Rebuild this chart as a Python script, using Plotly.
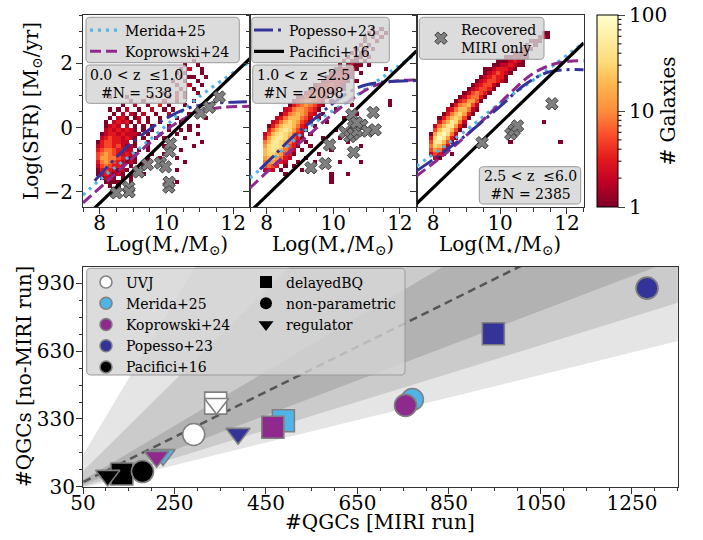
import numpy as np
import plotly.graph_objects as go

W, H = 703, 540
FONT = "DejaVu Serif"

# ================= DATA =================
# --- top panels: 2D histograms (counts per 0.125 x 0.125 dex cell) ---
MASS_MIN, MASS_BIN, N_MASS = 7.5, 0.125, 40
SFR_MAX, SFR_BIN, N_SFR = 3.5, 0.125, 48
# count code: character -> galaxies in cell
COUNT_CODE = {"1": 1, "2": 2, "3": 3, "4": 5, "5": 8, "6": 13, "7": 20, "8": 32, "9": 50, "a": 80}

# row index (0 = top, SFR 3.5) -> "startcol:codes" segments
hist_z1 = {
    11: "26:1", 12: "24:1 27:1", 13: "23:1 25:2 28:1", 14: "22:1 24:1 28:1",
    15: "23:2 25:11 29:1", 16: "21:1 24:1 27:1", 17: "22:1 25:2 28:1", 18: "20:1 23:1 26:1",
    19: "19:1 22:2 24:1 27:1", 20: "6:1 10:1 16:1 20:1 22:3 24:1", 21: "11:1 14:1 19:2 22:1 26:1",
    22: "9:1 12:2 15:1 18:3 20:1 24:1", 23: "6:1 8:1 10:2 13:1 16:2 19:1 21:1 27:1",
    24: "7:1 9:2 11:21 14:2 17:1 20:2 25:1", 25: "6:1 8:231 12:12 15:1 18:1 22:1 29:1",
    26: "5:1 7:23231 13:2 15:1 18:1 23:1", 27: "5:1232 10:2 12:1 14:1 16:1 20:1 25:1 27:1",
    28: "5:23232321 14:1 16:1 20:1 23:1 25:1", 29: "4:1233232221 15:1 18:1 22:1 27:1",
    30: "4:234332321 14:1 17:1 19:1 24:1", 31: "3:13443322 12:1 15:1 20:1 28:1",
    32: "3:2344342121 15:1 19:1 26:1", 33: "3:345543322 13:1 15:1 23:1",
    34: "3:4565432321 16:1 19:1", 35: "3:4665543211 15:1 18:1 22:1",
    36: "3:3565432121 15:1 24:1", 37: "3:2454332 11:1 14:1 19:1", 38: "3:13432121 13:1 22:1",
    39: "3:1232121 11:1 14:1", 40: "4:1221 9:1 11:1", 41: "5:1111 11:1 22:1",
    42: "6:1 8:1 11:1", 43: "7:1",
}
hist_z2 = {
    3: "29:1 31:1", 4: "28:1 30:2 32:1", 5: "27:1 29:1 31:1", 6: "27:1 30:1", 7: "26:1 28:1",
    8: "25:1 27:1 29:1", 9: "24:1 26:11", 10: "23:1 25:11 28:1", 11: "22:1 24:11 27:1",
    12: "21:1 23:1211 28:1", 13: "20:112221 32:1", 14: "19:122321 26:1", 15: "18:1233221",
    16: "17:1233321 25:1", 17: "15:12334321", 18: "14:1234432 22:1", 19: "13:23444321",
    20: "11:12445431 21:1", 21: "10:13455432 19:1 33:1", 22: "9:134565421 24:1 33:1",
    23: "8:235665431 20:1", 24: "7:135676532 17:1 25:1", 25: "6:235777542 16:1 22:1",
    26: "5:2357876431 18:1 27:1", 27: "4:1357887532 15:1 24:1", 28: "4:3578986431 20:1",
    29: "3:2478987532 14:1 27:1", 30: "3:3689986431 17:1 21:1", 31: "3:579987532 13:1 23:1",
    32: "3:68998643 11:1 14:1 26:1", 33: "3:78987542 12:1 19:1", 34: "3:7887643 10:1 16:1",
    35: "3:6776532 13:1", 36: "3:566532 11:1 15:1 21:1 26:1", 37: "3:4543 8:1 10:1",
    38: "3:232 7:1 12:1", 39: "8:1 19:1 23:1", 40: "19:1", 41: "19:1",
}
hist_z3 = {
    4: "30:11", 5: "29:121", 6: "27:111", 7: "26:1 28:1", 8: "25:111", 9: "23:1111",
    10: "21:112111", 11: "19:1112321", 12: "18:11223211", 13: "16:11233321", 14: "16:1234321",
    15: "15:1234331", 16: "14:12344321", 17: "13:1234421", 18: "12:1234431", 19: "11:1245431",
    20: "10:1245531", 21: "9:1346641", 22: "8:1356742", 23: "7:23577521", 24: "6:13578631",
    25: "5:13578741", 26: "5:3579852 30:1", 27: "4:25799631", 28: "4:4799741",
    29: "3:169a852", 30: "3:38a9631", 31: "3:499741 22:1 34:1", 32: "3:58752 16:1",
    33: "3:46531", 34: "3:2431 8:1", 35: "4:21",
}

z_labels = ["0.0 < z \u00a0≤1.0", "1.0 < z \u00a0≤2.5", "2.5 < z \u00a0≤6.0"]
n_gal = [538, 2098, 2385]

# main-sequence / quiescence relations, per redshift bin
merida_x = [[7.5, 8.0, 9.5, 11.0, 12.5], [7.5, 8.5, 9.5, 10.5, 11.5, 12.5], [7.5, 9.0, 10.0, 11.0, 12.5]]
merida_y = [[-2.1, -1.63, -0.38, 0.97, 2.05], [-1.57, -0.69, 0.19, 0.86, 1.58, 2.3], [-1.2, -0.07, 0.76, 1.48, 2.64]]
koprowski_x = [[7.5, 8.5, 9.5, 10.3, 11.0, 11.7, 12.5], [7.5, 8.3, 9.1, 9.9, 10.6, 11.3, 12.0, 12.5],
               [7.5, 8.5, 9.5, 10.3, 11.0, 11.7, 12.5]]
koprowski_y = [[-2.34, -1.41, -0.48, 0.14, 0.5, 0.63, 0.66], [-1.88, -1.1, -0.38, 0.35, 0.91, 1.33, 1.46, 1.48],
               [-1.51, -0.69, 0.24, 1.07, 1.69, 2.0, 2.08]]
popesso_x = [[7.85, 8.7, 9.5, 10.1, 10.7, 11.3, 12.0, 12.5], [7.8, 8.3, 8.8, 9.4, 10.0, 10.5, 11.0, 11.7, 12.5],
             [7.5, 8.0, 9.0, 10.0, 10.8, 11.5, 12.5]]
popesso_y = [[-1.65, -0.72, -0.05, 0.35, 0.62, 0.74, 0.79, 0.8], [-1.3, -0.79, -0.27, 0.24, 0.76, 1.12, 1.33, 1.43, 1.46],
             [-1.35, -0.99, -0.22, 0.66, 1.38, 1.74, 1.8]]
pacifici_x = [[7.5, 12.5], [7.5, 12.5], [7.5, 12.5]]
pacifici_y = [[-2.85, 2.15], [-2.62, 2.38], [-2.37, 2.63]]

# galaxies recovered as quiescent only in the MIRI run
miri_only_mass = [[8.5, 8.87, 8.88, 9.17, 9.43, 9.82, 9.97, 10.07, 10.08, 10.09, 10.12, 11.02, 11.28, 11.58],
                  [9.33, 9.76, 9.89, 10.56, 11.2, 10.36, 10.5, 10.61, 10.6, 10.72, 10.86, 11.03, 11.26, 10.61, 10.7],
                  [9.46, 10.32, 10.42, 10.52, 11.55]]
miri_only_sfr = [[-2.03, -1.86, -2.0, -1.38, -1.15, -1.1, -1.22, -1.85, -1.7, -0.74, -0.5, 0.45, 0.63, 0.95],
                 [-1.25, -1.12, -0.54, 0.40, 0.47, -0.15, -0.28, 0.02, -0.2, -0.1, 0.07, -0.11, -0.07, -0.77, 0.15],
                 [-0.47, -0.2, -0.08, 0.05, 0.74]]

# --- bottom panel: number of quiescent candidates ---
methods = ["UVJ", "Merida+25", "Koprowski+24", "Popesso+23", "Pacifici+16"]
sfh_models = ["delayedBQ", "non-parametric", "regulator"]
qgc_miri_delayedBQ = [340, 488, 465, 947, 135]
qgc_nomiri_delayedBQ = [400, 322, 293, 707, 86]
qgc_miri_nonparam = [292, 770, 755, 1283, 180]
qgc_nomiri_nonparam = [261, 416, 390, 909, 97]
qgc_miri_regulator = [342, 225, 211, 389, 104]
qgc_nomiri_regulator = [397, 171, 163, 265, 79]

# ratio bands around the one-to-one relation (lower slope, upper slope)
band_low = [0.5, 0.625, 0.77]
band_high = [3.4, 2.0, 1.2]

# ================= STYLE =================
C_MER, C_KOP, C_POP, C_PAC = "#4FB5E6", "#8E2A8E", "#333399", "#000000"
method_colors = ["#ffffff", C_MER, C_KOP, C_POP, C_PAC]
sfh_symbols = ["square", "circle", "triangle-down"]
band_colors = ["#e5e5e5", "#cbcbcb", "#b2b2b2"]
YLORRD_R = [[0, "#800026"], [0.125, "#bd0026"], [0.25, "#e31a1c"], [0.375, "#fc4e2a"],
            [0.5, "#fd8d3c"], [0.625, "#feb24c"], [0.75, "#fed976"], [0.875, "#ffeda0"], [1, "#ffffcc"]]
BOX_FILL, BOX_LINE = "rgba(211,211,211,0.8)", "#9a9a9a"
AX_COL = "#333333"


def px2paper(x, y):
    return x / W, 1 - y / H


def grid(rows):
    z = np.full((N_SFR, N_MASS), np.nan)
    for r, spec in rows.items():
        for seg in spec.split():
            c0, codes = seg.split(":")
            for i, ch in enumerate(codes):
                if ch != ".":
                    z[r, int(c0) + i] = COUNT_CODE[ch]
    return z


fig = go.Figure()
xa = ["x", "x2", "x3"]
ya = ["y", "y2", "y3"]
mass_c = [MASS_MIN + MASS_BIN * (i + 0.5) for i in range(N_MASS)]
sfr_c = [SFR_MAX - SFR_BIN * (r + 0.5) for r in range(N_SFR)][::-1]

for k, rows in enumerate([hist_z1, hist_z2, hist_z3]):
    counts = grid(rows)[::-1]
    logc = np.log10(counts)
    zlist = [[None if np.isnan(v) else float(v) for v in row] for row in logc]
    fig.add_trace(go.Heatmap(
        x=mass_c, y=sfr_c, z=zlist, zmin=0, zmax=2, colorscale=YLORRD_R,
        showscale=(k == 0), hoverinfo="skip", xaxis=xa[k], yaxis=ya[k],
        colorbar=dict(x=596.7 / W, xanchor="left", xpad=0, y=1 - 15 / H, yanchor="top", ypad=0,
                      len=192 / H, lenmode="fraction", thickness=21, thicknessmode="pixels",
                      outlinecolor="black", outlinewidth=1,
                      tickvals=[0, 1, 2], ticktext=["1", "10", "100"], ticks="outside", ticklen=7,
                      tickfont=dict(family=FONT, size=20, color="black"),
                      title=dict(text="# Galaxies", side="right", font=dict(family=FONT, size=20, color="black"))),
    ))
    fig.add_trace(go.Scatter(x=merida_x[k], y=merida_y[k], mode="lines", name="Merida+25",
                             line=dict(color=C_MER, width=3.2, dash="3px,5px", shape="spline"),
                             showlegend=(k == 0), legend="legend", xaxis=xa[k], yaxis=ya[k], hoverinfo="skip"))
    fig.add_trace(go.Scatter(x=koprowski_x[k], y=koprowski_y[k], mode="lines", name="Koprowski+24",
                             line=dict(color=C_KOP, width=3, dash="11px,5px", shape="spline"),
                             showlegend=(k == 0), legend="legend", xaxis=xa[k], yaxis=ya[k], hoverinfo="skip"))
    fig.add_trace(go.Scatter(x=popesso_x[k], y=popesso_y[k], mode="lines", name="Popesso+23",
                             line=dict(color=C_POP, width=3, dash="19px,5px,3px,5px", shape="spline"),
                             showlegend=(k == 0), legend="legend2", xaxis=xa[k], yaxis=ya[k], hoverinfo="skip"))
    fig.add_trace(go.Scatter(x=pacifici_x[k], y=pacifici_y[k], mode="lines", name="Pacifici+16",
                             line=dict(color=C_PAC, width=3.2),
                             showlegend=(k == 0), legend="legend2", xaxis=xa[k], yaxis=ya[k], hoverinfo="skip"))
    fig.add_trace(go.Scatter(x=miri_only_mass[k], y=miri_only_sfr[k], mode="markers",
                             name="Recovered<br>MIRI only",
                             marker=dict(symbol="x", size=11, color="#808080", opacity=1,
                                         line=dict(color="#404040", width=1)),
                             showlegend=(k == 0), legend="legend3", xaxis=xa[k], yaxis=ya[k], hoverinfo="skip"))

# --- bottom panel ---
for lo, hi, col in zip(band_low, band_high, band_colors):
    xs = [0, 1400, 1400, 0]
    ys = [0, 1400 * lo, 1400 * hi, 0]
    fig.add_trace(go.Scatter(x=xs, y=ys, fill="toself", fillcolor=col, mode="none",
                             showlegend=False, hoverinfo="skip", xaxis="x4", yaxis="y4"))
fig.add_trace(go.Scatter(x=[0, 1400], y=[0, 1400], mode="lines",
                         line=dict(color="#555555", width=2.5, dash="8px,5px"),
                         showlegend=False, hoverinfo="skip", xaxis="x4", yaxis="y4"))

for i, m in enumerate(methods):
    xs = [qgc_miri_delayedBQ[i], qgc_miri_nonparam[i], qgc_miri_regulator[i]]
    ys = [qgc_nomiri_delayedBQ[i], qgc_nomiri_nonparam[i], qgc_nomiri_regulator[i]]
    fig.add_trace(go.Scatter(x=xs, y=ys, mode="markers", showlegend=False, hoverinfo="skip",
                             marker=dict(symbol=sfh_symbols, size=[22, 22, 21], color=method_colors[i],
                                         opacity=1, line=dict(color="#808080", width=1.6)),
                             xaxis="x4", yaxis="y4"))

# legend proxies for bottom panel
for i, m in enumerate(methods):
    fig.add_trace(go.Scatter(x=[None], y=[None], mode="markers", name=m, legend="legend4",
                             marker=dict(symbol="circle", size=12, color=method_colors[i], opacity=1,
                                         line=dict(color="#808080", width=1.5)),
                             xaxis="x4", yaxis="y4"))
for j, s in enumerate(sfh_models):
    fig.add_trace(go.Scatter(x=[None], y=[None], mode="markers", name=s, legend="legend5",
                             marker=dict(symbol=sfh_symbols[j], size=12 if j < 2 else 13, color="black",
                                         opacity=1),
                             xaxis="x4", yaxis="y4"))

# ================= LAYOUT =================
tickfont = dict(family=FONT, size=20, color="black")


def top_x(dom):
    return dict(domain=dom, range=[7.5, 12.5], tick0=0, dtick=2, ticks="outside", ticklen=6, tickwidth=1,
                tickcolor=AX_COL, minor=dict(dtick=0.5, tick0=0, ticks="outside", ticklen=3.5, tickcolor=AX_COL),
                showline=True, mirror=True, linecolor=AX_COL, linewidth=1, showgrid=False, zeroline=False,
                tickfont=tickfont, automargin=False, ticklabelstandoff=-8)


def top_y(anchor, labels):
    return dict(domain=[1 - 207 / H, 1 - 15 / H], range=[-2.47, 3.5], tick0=0, dtick=2, ticks="outside",
                ticklen=6, tickwidth=1, tickcolor=AX_COL, anchor=anchor,
                minor=dict(dtick=0.5, tick0=0, ticks="outside", ticklen=3.5, tickcolor=AX_COL),
                showline=True, mirror=True, linecolor=AX_COL, linewidth=1, showgrid=False, zeroline=False,
                showticklabels=labels, tickfont=tickfont, automargin=False, ticklabelstandoff=-1)


layout = dict(
    width=W, height=H, margin=dict(l=0, r=0, t=0, b=0, autoexpand=False),
    paper_bgcolor="white", plot_bgcolor="white",
    font=dict(family=FONT, size=14, color="black"),
    xaxis=dict(top_x([83 / W, 250 / W]), anchor="y"),
    yaxis=top_y("x", True),
    xaxis2=dict(top_x([250 / W, 416.5 / W]), anchor="y2"),
    yaxis2=top_y("x2", False),
    xaxis3=dict(top_x([416.5 / W, 583.7 / W]), anchor="y3"),
    yaxis3=top_y("x3", False),
    xaxis4=dict(domain=[83 / W, 677.7 / W], range=[50, 1350], tick0=50, dtick=200, anchor="y4",
                ticks="outside", ticklen=6, tickcolor=AX_COL,
                minor=dict(dtick=50, tick0=50, ticks="outside", ticklen=3.5, tickcolor=AX_COL),
                showline=True, mirror=True, linecolor=AX_COL, linewidth=1, showgrid=False, zeroline=False,
                tickfont=tickfont, automargin=False, ticklabelstandoff=-8),
    yaxis4=dict(domain=[1 - 486.7 / H, 1 - 266.7 / H], range=[30, 1004], tick0=30, dtick=300, anchor="x4",
                ticks="outside", ticklen=6, tickcolor=AX_COL,
                minor=dict(dtick=75, tick0=30, ticks="outside", ticklen=3.5, tickcolor=AX_COL),
                showline=True, mirror=True, linecolor=AX_COL, linewidth=1, showgrid=False, zeroline=False,
                tickfont=tickfont, automargin=False, ticklabelstandoff=-3),
)

leg_common = dict(bgcolor="rgba(0,0,0,0)", borderwidth=0, font=dict(family=FONT, size=14, color="black"),
                  xanchor="left", yanchor="top", itemwidth=30, tracegroupgap=0)
layout["legend"] = dict(leg_common, x=85 / W, y=1 - 14.5 / H, itemsizing="trace")
layout["legend2"] = dict(leg_common, x=249 / W, y=1 - 14.5 / H, itemsizing="trace")
layout["legend3"] = dict(leg_common, x=421 / W, y=1 - 13.5 / H, itemsizing="trace")
layout["legend4"] = dict(leg_common, x=86 / W, y=1 - 266.5 / H, itemsizing="trace")
layout["legend5"] = dict(leg_common, x=246 / W, y=1 - 266.5 / H, itemsizing="trace")


def rbox(x0, y0, x1, y1, r=4):
    def P(x, y):
        a, b = px2paper(x, y)
        return f"{a:.5f},{b:.5f}"
    path = (f"M{P(x0 + r, y0)} L{P(x1 - r, y0)} Q{P(x1, y0)} {P(x1, y0 + r)} L{P(x1, y1 - r)} "
            f"Q{P(x1, y1)} {P(x1 - r, y1)} L{P(x0 + r, y1)} Q{P(x0, y1)} {P(x0, y1 - r)} "
            f"L{P(x0, y0 + r)} Q{P(x0, y0)} {P(x0 + r, y0)} Z")
    return dict(type="path", xref="paper", yref="paper", path=path, fillcolor=BOX_FILL,
                line=dict(color=BOX_LINE, width=1), layer="above")


shapes = [
    rbox(86, 17.3, 239.3, 62.7), rbox(251.7, 17.3, 389.3, 62.7), rbox(419.3, 17.3, 544, 59.3),
    rbox(86, 65, 186.7, 103.3), rbox(252.7, 65, 354, 103.3), rbox(479.3, 166.7, 580.7, 204),
    rbox(86.7, 268.3, 405, 375),
]
# colorbar minor ticks (log scale)
for v in [2, 3, 4, 5, 6, 7, 8, 9, 20, 30, 40, 50, 60, 70, 80, 90]:
    yy = 207 - 96 * np.log10(v)
    a0, b0 = px2paper(617.7, yy)
    a1, b1 = px2paper(621.5, yy)
    shapes.append(dict(type="line", xref="paper", yref="paper", x0=a0, x1=a1, y0=b0, y1=b1,
                       line=dict(color="black", width=1)))
layout["shapes"] = shapes

ann = []


def add_text(text, x, y, size=14, angle=0):
    a, b = px2paper(x, y)
    ann.append(dict(text=text, x=a, y=b, xref="paper", yref="paper", showarrow=False, textangle=angle,
                    xanchor="center", yanchor="middle", align="center",
                    font=dict(family=FONT, size=size, color="black")))


box_centers = [(136.3, 84), (303.3, 84), (530, 185.3)]
for k in range(3):
    add_text(f"{z_labels[k]}<br>#N = {n_gal[k]}", box_centers[k][0], box_centers[k][1], 14)
add_text("Log(SFR) [M<sub>⊙</sub>/yr]", 32, 111, 20, -90)
for cx in [166.5, 333.2, 500.1]:
    add_text("Log(M<sub>⋆</sub>/M<sub>⊙</sub>)", cx, 245, 20)
add_text("#QGCs [MIRI run]", 380, 522, 20)
add_text("#QGCs [no-MIRI run]", 24, 377, 20, -90)
layout["annotations"] = ann

fig.update_layout(**layout)
fig.write_html("out.html", config={"displayModeBar": False})
